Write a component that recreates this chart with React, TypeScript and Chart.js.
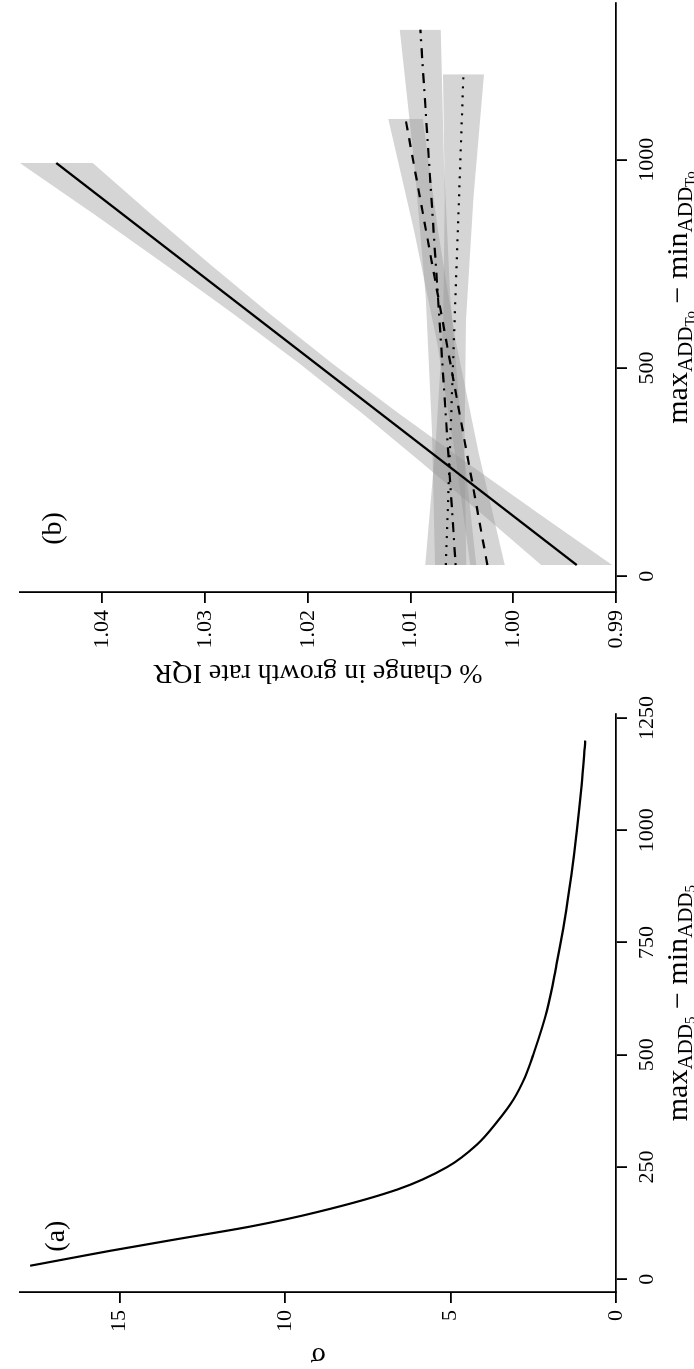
import React, { useEffect, useRef } from "react";
import { Chart, registerables } from "chart.js";

Chart.register(...registerables);

// ---------- Panel (a): sigma vs (max ADD5 - min ADD5) ----------
const sigmaX = [30, 50, 63, 90, 118, 150, 200, 250, 300, 350, 400, 450, 500, 600, 700, 800, 900, 1000, 1100, 1200];
const sigmaY = [17.7, 16.25, 15.3, 13.2, 11.0, 9.0, 6.6, 5.1, 4.2, 3.6, 3.1, 2.75, 2.5, 2.08, 1.8, 1.55, 1.35, 1.18, 1.04, 0.93];
const xTicksA = [0, 250, 500, 750, 1000, 1250];
const yTicksA = [0, 5, 10, 15];

// ---------- Panel (b): % change in growth rate IQR ----------
const xTicksB = [0, 500, 1000];
const yTicksB = [0.99, 1.0, 1.01, 1.02, 1.03, 1.04];

const solidX = [27, 992];
const solidY = [0.99382, 1.04449];
const solidBandX = [27, 150, 270, 390, 510, 630, 750, 870, 992];
const solidBandLo = [0.99037, 0.9975, 1.00437, 1.01111, 1.01758, 1.02371, 1.02957, 1.0353, 1.04094];
const solidBandHi = [0.99727, 1.00306, 1.00879, 1.01465, 1.02078, 1.02725, 1.03399, 1.04086, 1.04804];

const dashedX = [27, 1098];
const dashedY = [1.00252, 1.01049];
const dashedBandX = [27, 295, 562, 830, 1098];
const dashedBandLo = [1.00084, 1.00335, 1.00557, 1.00734, 1.00882];
const dashedBandHi = [1.0042, 1.00567, 1.00743, 1.00966, 1.01216];

const dottedX = [27, 1205];
const dottedY = [1.00657, 1.00485];
const dottedBandX = [27, 321, 616, 910, 1205];
const dottedBandLo = [1.00457, 1.00474, 1.00461, 1.00388, 1.00285];
const dottedBandHi = [1.00857, 1.00754, 1.00681, 1.00668, 1.00685];

const dashdotX = [27, 1312];
const dashdotY = [1.00561, 1.00905];
const dashdotBandX = [27, 348, 670, 991, 1312];
const dashdotBandLo = [1.00361, 1.00502, 1.00613, 1.00674, 1.00705];
const dashdotBandHi = [1.00761, 1.00792, 1.00853, 1.00964, 1.01105];

const panelLabels = ["(a)", "(b)"];
const labelPosA = { x: 96, y: 16.9 };
const labelPosB = { x: 115, y: 1.0447 };

// ---------- styling ----------
const FONT = "'Liberation Serif', 'Times New Roman', 'DejaVu Serif', serif";
const TICK_SIZE = 22;
const TITLE_SIZE = 28;
const AXIS_W = 1.8;
const BAND = "rgba(150,150,150,0.4)";

const pts = (xs: number[], ys: number[]) => xs.map((x, i) => ({ x, y: ys[i] }));

function drawMathTitle(ctx: CanvasRenderingContext2D, cx: number, baseline: number, sub2: string) {
  const parts = [
    { t: "max", s: 30, dy: 0 },
    { t: "ADD", s: 21, dy: 5 },
    { t: sub2, s: 15, dy: 8 },
    { t: " \u2212 min", s: 30, dy: 0 },
    { t: "ADD", s: 21, dy: 5 },
    { t: sub2, s: 15, dy: 8 },
  ];
  let total = 0;
  const widths: number[] = [];
  for (const p of parts) {
    ctx.font = `${p.s}px ${FONT}`;
    const w = ctx.measureText(p.t).width;
    widths.push(w);
    total += w;
  }
  let x = cx - total / 2;
  ctx.fillStyle = "#000";
  ctx.textAlign = "left";
  ctx.textBaseline = "alphabetic";
  parts.forEach((p, i) => {
    ctx.font = `${p.s}px ${FONT}`;
    ctx.fillText(p.t, x, baseline + p.dy);
    x += widths[i];
  });
}

function drawYTitle(ctx: CanvasRenderingContext2D, text: string, baselineX: number, cy: number) {
  ctx.save();
  ctx.translate(baselineX, cy);
  ctx.rotate(-Math.PI / 2);
  ctx.font = `${TITLE_SIZE}px ${FONT}`;
  ctx.fillStyle = "#000";
  ctx.textAlign = "center";
  ctx.textBaseline = "alphabetic";
  ctx.fillText(text, 0, 0);
  ctx.restore();
}

function axisCommon(ticksArr: number[], fmt: (v: number) => string, isX: boolean, fitSize: number) {
  return {
    type: "linear" as const,
    afterBuildTicks: (s: any) => {
      s.ticks = ticksArr.map((v) => ({ value: v }));
    },
    afterFit: (s: any) => {
      if (isX) s.height = fitSize;
      else s.width = fitSize;
    },
    grid: {
      drawOnChartArea: false,
      drawTicks: true,
      tickLength: 11,
      color: "#000",
      lineWidth: AXIS_W,
    },
    border: { display: true, color: "#000", width: AXIS_W },
    ticks: {
      color: "#000",
      font: { family: FONT, size: TICK_SIZE },
      padding: 7,
      maxRotation: 0,
      minRotation: 0,
      autoSkip: false,
      includeBounds: false,
      callback: (v: any) => fmt(Number(v)),
    },
    title: { display: false },
  };
}

function PanelA() {
  const ref = useRef<HTMLCanvasElement>(null);
  useEffect(() => {
    const overlay = {
      id: "overlayA",
      afterDraw(chart: any) {
        const { ctx, chartArea, scales } = chart;
        ctx.save();
        drawMathTitle(ctx, (chartArea.left + chartArea.right) / 2, 687, "5");
        drawYTitle(ctx, "\u03c3", 21, (chartArea.top + chartArea.bottom) / 2);
        ctx.font = `${TITLE_SIZE}px ${FONT}`;
        ctx.textAlign = "center";
        ctx.textBaseline = "middle";
        ctx.fillStyle = "#000";
        ctx.fillText(panelLabels[0], scales.x.getPixelForValue(labelPosA.x), scales.y.getPixelForValue(labelPosA.y));
        ctx.restore();
      },
    };
    const chart = new Chart(ref.current!, {
      type: "line",
      data: {
        datasets: [
          {
            data: pts(sigmaX, sigmaY),
            borderColor: "#000",
            borderWidth: 2.2,
            pointRadius: 0,
            cubicInterpolationMode: "monotone",
            fill: false,
          },
        ],
      },
      options: {
        responsive: false,
        animation: false,
        devicePixelRatio: 1,
        layout: { padding: { top: 10, right: 14, left: 0, bottom: 0 } },
        plugins: { legend: { display: false }, tooltip: { enabled: false } },
        scales: {
          x: { ...axisCommon(xTicksA, (v) => String(v), true, 78), min: -28.5, max: 1258.5 },
          y: { ...axisCommon(yTicksA, (v) => String(v), false, 77), min: 0, max: 18 },
        },
      } as any,
      plugins: [overlay],
    });
    return () => chart.destroy();
  }, []);
  return (
    <canvas
      ref={ref}
      width={680}
      height={694}
      style={{ position: "absolute", left: 0, top: 0, width: 680, height: 694 }}
    />
  );
}

function bandPair(xs: number[], lo: number[], hi: number[]) {
  return [
    {
      data: pts(xs, lo),
      borderColor: "transparent",
      backgroundColor: "transparent",
      pointRadius: 0,
      fill: false,
    },
    {
      data: pts(xs, hi),
      borderColor: "transparent",
      backgroundColor: BAND,
      pointRadius: 0,
      fill: "-1",
    },
  ];
}

function lineDs(xs: number[], ys: number[], dash: number[]) {
  return {
    data: pts(xs, ys),
    borderColor: "#000",
    borderWidth: 2.2,
    borderDash: dash,
    borderCapStyle: "butt",
    pointRadius: 0,
    fill: false,
  };
}

function PanelB() {
  const ref = useRef<HTMLCanvasElement>(null);
  useEffect(() => {
    const overlay = {
      id: "overlayB",
      afterDraw(chart: any) {
        const { ctx, chartArea, scales } = chart;
        ctx.save();
        drawMathTitle(ctx, (chartArea.left + chartArea.right) / 2, 687, "To");
        drawYTitle(ctx, "% change in growth rate IQR", 24, (chartArea.top + chartArea.bottom) / 2);
        ctx.font = `${TITLE_SIZE}px ${FONT}`;
        ctx.textAlign = "center";
        ctx.textBaseline = "middle";
        ctx.fillStyle = "#000";
        ctx.fillText(panelLabels[1], scales.x.getPixelForValue(labelPosB.x), scales.y.getPixelForValue(labelPosB.y));
        ctx.restore();
      },
    };
    // Chart.js paints the first dataset on top, so lines come first, bands after.
    const chart = new Chart(ref.current!, {
      type: "line",
      data: {
        datasets: [
          lineDs(solidX, solidY, []),
          lineDs(dashedX, dashedY, [9, 8]),
          lineDs(dottedX, dottedY, [2, 7]),
          lineDs(dashdotX, dashdotY, [2, 6, 10, 7]),
          ...bandPair(solidBandX, solidBandLo, solidBandHi),
          ...bandPair(dashedBandX, dashedBandLo, dashedBandHi),
          ...bandPair(dottedBandX, dottedBandLo, dottedBandHi),
          ...bandPair(dashdotBandX, dashdotBandLo, dashdotBandHi),
        ],
      },
      options: {
        responsive: false,
        animation: false,
        devicePixelRatio: 1,
        layout: { padding: { top: 10, right: 3, left: 0, bottom: 0 } },
        plugins: { legend: { display: false }, tooltip: { enabled: false } },
        scales: {
          x: { ...axisCommon(xTicksB, (v) => String(v), true, 78), min: -37.7, max: 1376 },
          y: { ...axisCommon(yTicksB, (v) => v.toFixed(2), false, 97), min: 0.99, max: 1.048 },
        },
      } as any,
      plugins: [overlay],
    });
    return () => chart.destroy();
  }, []);
  return (
    <canvas
      ref={ref}
      width={689}
      height={694}
      style={{ position: "absolute", left: 680, top: 0, width: 689, height: 694 }}
    />
  );
}

export default function App() {
  return (
    <div
      style={{
        position: "fixed",
        left: 0,
        top: 0,
        width: 694,
        height: 1369,
        overflow: "hidden",
        background: "#fff",
      }}
    >
      <div
        style={{
          position: "absolute",
          left: 0,
          top: 0,
          width: 1369,
          height: 694,
          transformOrigin: "0 0",
          transform: "translate(0px, 1369px) rotate(-90deg)",
        }}
      >
        <PanelA />
        <PanelB />
      </div>
    </div>
  );
}
